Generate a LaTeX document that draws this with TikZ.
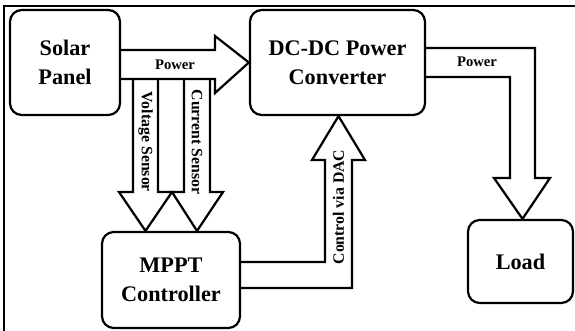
\documentclass[tikz,border=0pt]{standalone}
\usepackage{fontspec}
\setmainfont{Liberation Serif}
\begin{document}
\begin{tikzpicture}[x=0.03cm,y=-0.03cm,
  blk/.style={draw,line width=1.9pt,rounded corners=10pt,inner sep=0pt,
    font=\fontsize{19}{25}\selectfont\bfseries,align=center},
  barrow/.style={draw,line width=1.9pt,line join=miter},
  lbl/.style={font=\fontsize{12.5}{14}\selectfont\bfseries,inner sep=0pt},
  vlbl/.style={font=\fontsize{13.5}{15}\selectfont\bfseries,inner sep=0pt}]
\useasboundingbox (0,0) rectangle (575,331);
\draw[line width=1.1pt] (4,345) -- (4,6) -- (585,6);
\node[blk,minimum width=110*0.03cm,minimum height=105*0.03cm] (solar) at (65,62.5) {Solar\\Panel};
\node[blk,minimum width=175*0.03cm,minimum height=105*0.03cm] (dcdc) at (337.5,62.5) {DC-DC Power\\Converter};
\node[blk,minimum width=138*0.03cm,minimum height=96*0.03cm] (mppt) at (171,280) {MPPT\\Controller};
\node[blk,minimum width=105*0.03cm,minimum height=83*0.03cm] (load) at (520.5,261.5) {Load};
% Power arrow solar -> dcdc
\draw[barrow] (solar.east |- 0,50) -- (215,50) -- (215,36) -- (dcdc.west) -- (215,93) -- (215,79) -- (solar.east |- 0,79);
\node[lbl] (p1) at (175,65) {Power};
% Voltage sensor arrow
\draw[barrow] (133,79) -- (133,192) -- (119,192) -- (mppt.north -| 145.5,0) -- (172,192) -- (158,192) -- (158,79);
\node[vlbl,rotate=-90] (vs) at (145.5,142) {Voltage Sensor};
% Current sensor arrow
\draw[barrow] (184,79) -- (184,192) -- (172,192) -- (mppt.north -| 197,0) -- (223,192) -- (210,192) -- (210,79);
\node[vlbl,rotate=-90] (cs) at (197,142) {Current Sensor};
% Control arrow mppt -> dcdc
\draw[barrow] (mppt.east |- 0,262) -- (325,262) -- (325,160) -- (312,160) -- (dcdc.south -| 338.5,0) -- (365,160) -- (352,160) -- (352,288) -- (mppt.east |- 0,288);
\node[vlbl,rotate=90] (ctl) at (338.5,207) {Control via DAC};
% Power dcdc -> load
\draw[barrow] (dcdc.east |- 0,48) -- (535,48) -- (535,178) -- (550,178) -- (load.north -| 522.5,0) -- (494,178) -- (510,178) -- (510,77) -- (dcdc.east |- 0,77);
\node[lbl] (p2) at (477,62) {Power};
\end{tikzpicture}
\end{document}
